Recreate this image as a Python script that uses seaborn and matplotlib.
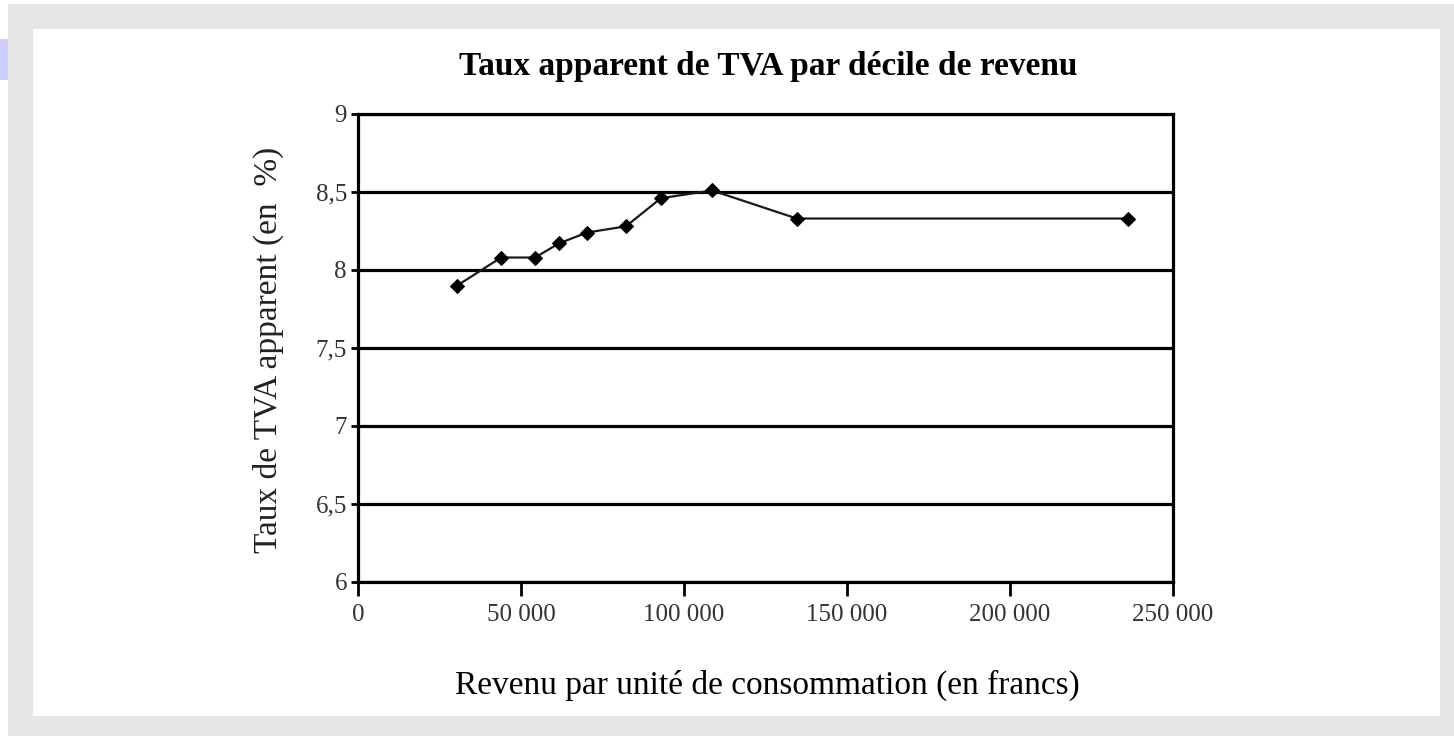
import matplotlib
matplotlib.use("Agg")
import matplotlib.pyplot as plt
import matplotlib.patches as mpatches
import seaborn as sns
import pandas as pd

# Data
revenu = [30400, 43900, 54300, 61600, 70200, 82200, 92900, 108600, 134600, 236200]
taux = [7.90, 8.08, 8.08, 8.17, 8.24, 8.28, 8.46, 8.51, 8.33, 8.33]
y_ticks = [6, 6.5, 7, 7.5, 8, 8.5, 9]
y_labels = ["6", "6,5", "7", "7,5", "8", "8,5", "9"]
x_ticks = [0, 50000, 100000, 150000, 200000, 250000]
x_labels = ["0", "50 000", "100 000", "150 000", "200 000", "250 000"]

title = "Taux apparent de TVA par décile de revenu"
xlabel = "Revenu par unité de consommation (en francs)"
ylabel = "Taux de TVA apparent (en  %)"

sns.set_theme(style="white")
plt.rcParams["font.family"] = ["Liberation Serif", "DejaVu Serif"]

W, H = 1454, 736
fig = plt.figure(figsize=(W / 100, H / 100), dpi=100)
fig.patch.set_facecolor("white")

def rect(x0, y0, x1, y1, color):
    fig.patches.append(mpatches.Rectangle((x0 / W, 1 - y1 / H), (x1 - x0) / W, (y1 - y0) / H,
                                          transform=fig.transFigure, facecolor=color,
                                          edgecolor="none", zorder=-10))

rect(8, 4, 1454, 736, "#e6e6e6")
rect(33, 29, 1440, 716, "white")
rect(0, 39, 8, 80, "#ccccff")

ax = fig.add_axes([358 / W, 1 - 582 / H, (1173 - 358) / W, (582 - 114) / H])
ax.set_facecolor("white")

df = pd.DataFrame({"revenu": revenu, "taux": taux})
sns.lineplot(data=df, x="revenu", y="taux", ax=ax, color="#1a1a1a", linewidth=1.6,
             marker="D", markersize=7, markerfacecolor="black", markeredgecolor="black",
             zorder=5)

ax.set_xlim(0, 250000)
ax.set_ylim(6, 9)
ax.set_yticks(y_ticks)
ax.set_yticklabels(y_labels)
ax.set_xticks(x_ticks)
ax.set_xticklabels(x_labels)

for y in y_ticks:
    ax.axhline(y, color="black", linewidth=2.3, zorder=1)

for s in ax.spines.values():
    s.set_visible(True)
    s.set_color("black")
    s.set_linewidth(2.3)

ax.tick_params(axis="y", direction="out", length=5, width=2, colors="black", labelsize=18, pad=3, left=True)
ax.tick_params(axis="x", direction="out", length=10, width=2, colors="black", labelsize=18, pad=6, bottom=True)
for lbl in ax.get_xticklabels() + ax.get_yticklabels():
    lbl.set_color("#333333")

ax.set_xlabel("")
ax.set_ylabel("")
fig.text(767 / W, 1 - 685 / H, xlabel, ha="center", va="center", fontsize=24, color="black")
fig.text(268 / W, 1 - 350 / H, ylabel, ha="center", va="center", fontsize=24, color="#222222",
         rotation=90)
fig.text(768 / W, 1 - 67 / H, title, ha="center", va="center", fontsize=24, color="black",
         fontweight="bold")

fig.savefig("out.png", dpi=100, facecolor=fig.get_facecolor())
